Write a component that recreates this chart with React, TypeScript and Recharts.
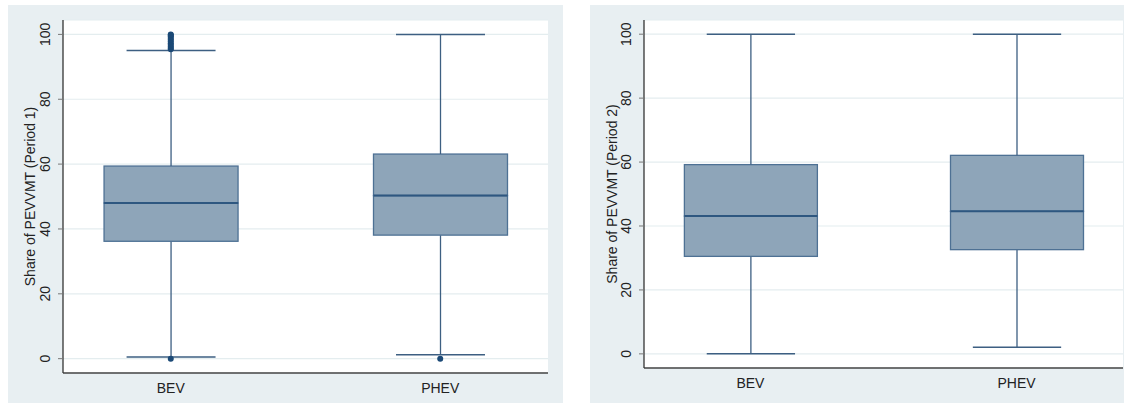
import { ComposedChart, Bar, Scatter, XAxis, YAxis, CartesianGrid, Label } from 'recharts'

const categories = ['BEV', 'PHEV']
const positions = [1, 2]
const yTicks = [0, 20, 40, 60, 80, 100]

// period 1 box stats
const p1Min = [0.5, 1.2]
const p1Q1 = [36.2, 38.1]
const p1Median = [48.0, 50.3]
const p1Q3 = [59.4, 63.1]
const p1Max = [95.0, 100]
const p1BevOutliers = [0, 95.4, 95.8, 96.3, 96.8, 97.3, 97.9, 98.4, 98.9, 99.4, 99.8, 100]
const p1PhevOutliers = [0]

// period 2 box stats
const p2Min = [0, 2.1]
const p2Q1 = [30.5, 32.6]
const p2Median = [43.1, 44.6]
const p2Q3 = [59.2, 62.1]
const p2Max = [100, 100]

const FONT = '"Liberation Sans", Arial, sans-serif'
const BOX_FILL = '#8ea5b9'
const BOX_LINE = '#4e7194'
const WHISKER = '#3d5f82'
const MEDIAN = '#2e5780'
const DOT = '#1b4976'

function buildRows(min: number[], q1: number[], med: number[], q3: number[], max: number[]) {
  return categories.map((name, i) => ({
    name,
    pos: positions[i],
    base: min[i],
    lowW: q1[i] - min[i],
    boxLo: med[i] - q1[i],
    boxHi: q3[i] - med[i],
    highW: max[i] - q3[i],
  }))
}

function LowWhisker(props: any) {
  const { x, y, width, height } = props
  const cx = x + width / 2
  const cap = width * 0.332
  return (
    <g>
      <line x1={cx} x2={cx} y1={y} y2={y + height} stroke={WHISKER} strokeWidth={1.3} />
      <line x1={cx - cap} x2={cx + cap} y1={y + height} y2={y + height} stroke={WHISKER} strokeWidth={1.5} />
    </g>
  )
}

function HighWhisker(props: any) {
  const { x, y, width, height } = props
  const cx = x + width / 2
  const cap = width * 0.332
  return (
    <g>
      <line x1={cx} x2={cx} y1={y} y2={y + height} stroke={WHISKER} strokeWidth={1.3} />
      <line x1={cx - cap} x2={cx + cap} y1={y} y2={y} stroke={WHISKER} strokeWidth={1.5} />
    </g>
  )
}

function BoxLow(props: any) {
  const { x, y, width, height } = props
  return <rect x={x} y={y} width={width} height={height} fill={BOX_FILL} stroke={BOX_LINE} strokeWidth={1.3} />
}

function BoxHigh(props: any) {
  const { x, y, width, height } = props
  return (
    <g>
      <rect x={x} y={y} width={width} height={height} fill={BOX_FILL} stroke={BOX_LINE} strokeWidth={1.3} />
      <line x1={x} x2={x + width} y1={y + height} y2={y + height} stroke={MEDIAN} strokeWidth={2} />
    </g>
  )
}

function Dot(props: any) {
  return <circle cx={props.cx} cy={props.cy} r={3} fill={DOT} />
}

function YTick(props: any) {
  const { x, y, payload } = props
  const cx = x - 11
  return (
    <text x={cx} y={y} transform={`rotate(-90 ${cx} ${y})`} textAnchor="middle" dominantBaseline="central"
      fontSize={14} fontFamily={FONT} fill="#222">
      {payload.value}
    </text>
  )
}

interface PanelProps {
  left: number
  width: number
  title: string
  rows: ReturnType<typeof buildRows>
  outliers: { pos: number; value: number }[]
  yWidth: number
  xHeight: number
  right: number
  barSize: number
}

function Panel({ left, width, title, rows, outliers, yWidth, xHeight, right, barSize }: PanelProps) {
  return (
    <div style={{ position: 'absolute', left, top: 5, width, height: 398, background: '#e8eff2' }}>
      <ComposedChart width={width} height={398} data={rows} margin={{ top: 15, right, bottom: 0, left: 0 }}>
        <CartesianGrid vertical={false} stroke="#e4edef" strokeWidth={1.2} fill="#ffffff" />
        <XAxis dataKey="pos" type="number" domain={[0.6, 2.4]} ticks={positions} allowDataOverflow
          tickFormatter={(v: number) => categories[positions.indexOf(v)]}
          height={xHeight} tickLine={false} axisLine={{ stroke: '#444', strokeWidth: 1.5 }}
          tick={{ fontSize: 14, fontFamily: FONT, fill: '#222' }} tickMargin={4} />
        <YAxis type="number" domain={[-4.42, 104.44]} ticks={yTicks} allowDataOverflow width={yWidth}
          tickSize={5} tickLine={{ stroke: '#777' }} axisLine={{ stroke: '#333', strokeWidth: 1.3 }} tick={<YTick />}>
          <Label content={({ viewBox }: any) => {
            const cx = viewBox.x + 22
            const cy = viewBox.y + viewBox.height / 2
            return (
              <text x={cx} y={cy} transform={`rotate(-90 ${cx} ${cy})`} textAnchor="middle" dominantBaseline="central"
                fontSize={14} fontFamily={FONT} fill="#222">
                {title}
              </text>
            )
          }} />
        </YAxis>
        <Bar dataKey="base" stackId="box" fill="transparent" barSize={barSize} isAnimationActive={false} />
        <Bar dataKey="lowW" stackId="box" shape={<LowWhisker />} barSize={barSize} isAnimationActive={false} />
        <Bar dataKey="boxLo" stackId="box" shape={<BoxLow />} barSize={barSize} isAnimationActive={false} />
        <Bar dataKey="boxHi" stackId="box" shape={<BoxHigh />} barSize={barSize} isAnimationActive={false} />
        <Bar dataKey="highW" stackId="box" shape={<HighWhisker />} barSize={barSize} isAnimationActive={false} />
        {outliers.length > 0 && (
          <Scatter data={outliers} dataKey="value" shape={<Dot />} isAnimationActive={false} />
        )}
      </ComposedChart>
    </div>
  )
}

export default function App() {
  const rows1 = buildRows(p1Min, p1Q1, p1Median, p1Q3, p1Max)
  const rows2 = buildRows(p2Min, p2Q1, p2Median, p2Q3, p2Max)
  const out1 = [
    ...p1BevOutliers.map(value => ({ pos: positions[0], value })),
    ...p1PhevOutliers.map(value => ({ pos: positions[1], value })),
  ]
  return (
    <div style={{ position: 'absolute', left: 0, top: 0, width: 1126, height: 406, background: '#fff' }}>
      <Panel left={8} width={555} title="Share of PEVVMT (Period 1)" rows={rows1} outliers={out1}
        yWidth={55} xHeight={30} right={15} barSize={134} />
      <Panel left={590} width={534} title="Share of PEVVMT (Period 2)" rows={rows2} outliers={[]}
        yWidth={54} xHeight={35} right={1} barSize={133} />
    </div>
  )
}
